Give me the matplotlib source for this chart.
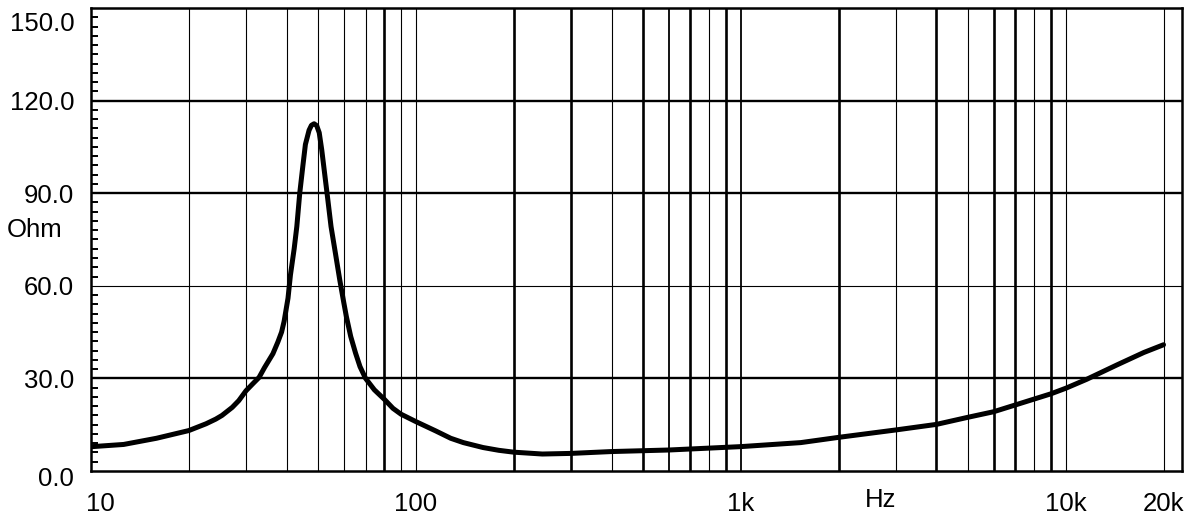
import matplotlib
matplotlib.use("Agg")
import matplotlib.pyplot as plt
import matplotlib.transforms as mtransforms
from matplotlib.ticker import FixedLocator, NullFormatter

plt.rcParams['font.family'] = ['Liberation Sans', 'DejaVu Sans']

# ---- data ----
freq_hz = [10.1, 12.6, 15.9, 20, 22.6, 24.2, 25.3, 27.2, 28.5, 30, 31.5, 32.9, 34.2, 36.3,
           37.6, 38.6, 39.3, 40.4, 41.1, 42.2, 43.0, 43.9, 44.9, 45.7, 46.9, 47.7, 48.6, 49.5,
           50.4, 51.3, 52.2, 53.5, 54.8, 56.5, 58.3, 60, 61.1, 63, 65.2, 67.3, 70, 74.5,
           80, 85, 90, 100, 115, 128, 140, 161, 180, 200, 245, 300, 400, 600, 1000, 1530,
           2000, 3000, 4000, 5000, 6000, 7000, 9000, 10000, 11600, 14400, 17400, 20000]
impedance_ohm = [7.9, 8.6, 10.6, 13.1, 15.3, 16.8, 18.0, 20.6, 22.8, 26.0, 28.3, 30.3, 33.5, 38.0,
                 41.8, 45.0, 48.5, 56.0, 63.5, 72.0, 79.2, 90.0, 99.0, 105.8, 110.4, 112.0, 112.5, 111.9,
                 109.6, 104.1, 97.6, 88.4, 79.2, 70.7, 61.9, 54.5, 50.0, 43.6, 38.2, 33.8, 30.0, 26.3,
                 23.2, 20.3, 18.4, 16.0, 13.0, 10.6, 9.2, 7.6, 6.7, 6.1, 5.5, 5.7, 6.3, 6.8, 7.9, 9.2,
                 10.9, 13.3, 15.1, 17.4, 19.2, 21.4, 25.0, 26.8, 29.7, 34.4, 38.4, 40.9]

y_ticks = [0, 30, 60, 90, 120, 150]
y_tick_labels = ["0.0", "30.0", "60.0", "90.0", "120.0", "150.0"]
x_ticks = [10, 100, 1000, 10000, 20000]
x_tick_labels = ["10", "100", "1k", "10k", "20k"]
x_unit = "Hz"
y_unit = "Ohm"

# ---- figure ----
fig = plt.figure(figsize=(12, 5.31), dpi=100)
ax = fig.add_axes([91 / 1200, 1 - 471 / 531, (1182 - 91) / 1200, (471 - 8) / 531])
ax.set_xscale('log')
ax.set_xlim(10, 22800)
ax.set_ylim(0, 150)

# vertical grid lines (1..9 per decade), with the uneven weights of the scan
thick_v = {80, 200, 300, 500, 700, 900, 2000, 4000, 6000, 7000, 9000}
medium_v = {600, 1000}
for dec in [10, 100, 1000, 10000]:
    for m in range(1, 10):
        f = dec * m
        if f <= 10 or f > 22800:
            continue
        lw = 1.9 if f in thick_v else (1.3 if f in medium_v else 0.8)
        ax.axvline(f, color='black', lw=lw, zorder=1)

# horizontal grid lines
h_weights = {30: 1.7, 60: 0.8, 90: 1.7, 120: 1.7}
for yv, lw in h_weights.items():
    ax.axhline(yv, color='black', lw=lw, zorder=1)

# curve
ax.plot(freq_hz, impedance_ohm, color='black', lw=3.6, solid_capstyle='round',
        solid_joinstyle='round', zorder=3)

# spines
for side, sp in ax.spines.items():
    sp.set_linewidth(1.8)
    sp.set_color('black')
    sp.set_zorder(4)

# y ticks
ax.set_yticks(y_ticks)
ax.set_yticklabels(y_tick_labels)
ax.yaxis.set_minor_locator(FixedLocator([v for v in range(0, 151, 3) if v % 30 != 0]))
ax.tick_params(axis='y', which='major', length=0, pad=12, labelsize=18.5)
ax.tick_params(axis='y', which='minor', direction='in', length=5, width=1.4, color='black')
for lab in ax.get_yticklabels():
    if lab.get_text() == "150.0":
        lab.set_va('top')
        lab.set_transform(lab.get_transform() + mtransforms.ScaledTranslation(0, -4 / 100, fig.dpi_scale_trans))
    if lab.get_text() == "0.0":
        lab.set_transform(lab.get_transform() + mtransforms.ScaledTranslation(0, -6 / 100, fig.dpi_scale_trans))

# x ticks
ax.xaxis.set_major_locator(FixedLocator(x_ticks))
ax.set_xticklabels(x_tick_labels)
ax.xaxis.set_minor_locator(FixedLocator([]))
ax.xaxis.set_minor_formatter(NullFormatter())
ax.tick_params(axis='x', which='both', length=0, pad=15, labelsize=18.5)
for lab in ax.get_xticklabels():
    if lab.get_text() == "10":
        lab.set_transform(lab.get_transform() + mtransforms.ScaledTranslation(9 / 100, 0, fig.dpi_scale_trans))

# unit labels
ax.text(2700, -0.063, x_unit, transform=ax.get_xaxis_transform(), ha='center', va='center',
        fontsize=18.5)
fig.text(35 / 1200, 1 - 230 / 531, y_unit, ha='center', va='center', fontsize=18.5)

fig.savefig("out.png", dpi=100, facecolor='white')
